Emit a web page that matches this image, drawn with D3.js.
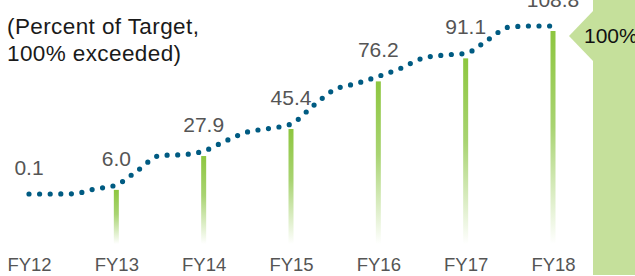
<!DOCTYPE html>
<html>
<head>
<meta charset="utf-8">
<script src="https://cdn.jsdelivr.net/npm/d3@7"></script>
<style>
  body { margin: 0; background: #fff; }
  svg { display: block; font-family: "Liberation Sans", Arial, sans-serif; }
</style>
</head>
<body>
<div id="chart"></div>
<script>
// fiscal years and the year-end percent of target
const years = ["FY12", "FY13", "FY14", "FY15", "FY16", "FY17", "FY18"];
const yearValues = [0.1, 6.0, 27.9, 45.4, 76.2, 91.1, 108.8];
const valueLabels = ["0.1", "6.0", "27.9", "45.4", "76.2", "91.1", "108.8"];

// quarterly progress (fractional fiscal year, percent)
const quarterYears = [12, 12.25, 12.5, 12.75, 13, 13.25, 13.5, 13.75, 14, 14.25, 14.5, 14.75,
    15, 15.25, 15.5, 15.75, 16, 16.25, 16.5, 16.75, 17, 17.25, 17.5, 17.75, 18];
const quarterValues = [0.1, 0.1, 0.2, 3.3, 6.0, 15.6, 25.0, 25.5, 27.9, 34.4, 40.2, 42.5,
    45.4, 57.0, 67.7, 71.6, 76.2, 81.3, 87.8, 90.0, 91.1, 99.7, 108.1, 108.8, 108.8];

const targetLabel = "100%";
const titleLines = ["(Percent of Target,", "100% exceeded)"];

const width = 635, height = 276;

const svg = d3.select("#chart").append("svg")
    .attr("width", width)
    .attr("height", height);

// scales
const x = d3.scalePoint().domain(years).range([29, 553]);
const xq = d3.scaleLinear().domain([12, 18]).range([29, 553]);
const y = d3.scaleLinear().domain([0, 110]).range([194.15, 24.15]);
const barBottom = 244;

// gradient for the bars
const grad = svg.append("defs").append("linearGradient")
    .attr("id", "barGrad")
    .attr("x1", 0).attr("y1", 0).attr("x2", 0).attr("y2", 1);
grad.append("stop").attr("offset", "0%").attr("stop-color", "#8dc63f");
grad.append("stop").attr("offset", "45%").attr("stop-color", "#a9d472");
grad.append("stop").attr("offset", "100%").attr("stop-color", "#ffffff");

// target panel on the right
svg.append("rect")
    .attr("x", 593).attr("y", 0)
    .attr("width", width - 593).attr("height", 275)
    .attr("fill", "#c5e09b");
svg.append("path")
    .attr("d", "M569,36L594,10L594,62Z")
    .attr("fill", "#c5e09b");
svg.append("text")
    .attr("x", 584).attr("y", 43)
    .attr("font-size", 21)
    .attr("fill", "#111")
    .text(targetLabel);

// title
svg.append("text")
    .attr("x", 7).attr("y", 34)
    .attr("font-size", 22.5)
    .attr("letter-spacing", 0.4)
    .attr("fill", "#1a1a1a")
    .selectAll("tspan")
    .data(titleLines)
    .enter().append("tspan")
    .attr("x", 7)
    .attr("dy", (d, i) => i === 0 ? 0 : 27)
    .text(d => d);

// bars (skip FY12, its value is ~0)
const barData = years.map((d, i) => ({year: d, value: yearValues[i]})).slice(1);
svg.selectAll(".bar")
    .data(barData)
    .enter().append("rect")
    .attr("class", "bar")
    .attr("x", d => x(d.year) - 2.5)
    .attr("y", d => y(d.value) + 5)
    .attr("width", 5)
    .attr("height", d => barBottom - y(d.value) - 5)
    .attr("fill", "url(#barGrad)");

// dotted progress line
const line = d3.line()
    .x((d, i) => xq(quarterYears[i]))
    .y(d => y(d))
    .curve(d3.curveMonotoneX);

svg.append("path")
    .datum(quarterValues)
    .attr("d", line)
    .attr("fill", "none")
    .attr("stroke", "#005b82")
    .attr("stroke-width", 5.2)
    .attr("stroke-linecap", "round")
    .attr("stroke-dasharray", "0 10.6");

// value labels
svg.selectAll(".val")
    .data(years)
    .enter().append("text")
    .attr("class", "val")
    .attr("x", d => x(d))
    .attr("y", (d, i) => y(yearValues[i]) - 19)
    .attr("text-anchor", "middle")
    .attr("font-size", 21)
    .attr("fill", "#555")
    .text((d, i) => valueLabels[i]);

// year axis labels
const axis = d3.axisBottom(x).tickSize(0).tickPadding(0);
const gAxis = svg.append("g")
    .attr("transform", "translate(0,258)")
    .call(axis);
gAxis.select(".domain").remove();
gAxis.selectAll("text")
    .attr("font-size", 18.5)
    .attr("font-family", "Liberation Sans, Arial, sans-serif")
    .attr("fill", "#555")
    .attr("dy", "0.71em");
</script>
</body>
</html>
